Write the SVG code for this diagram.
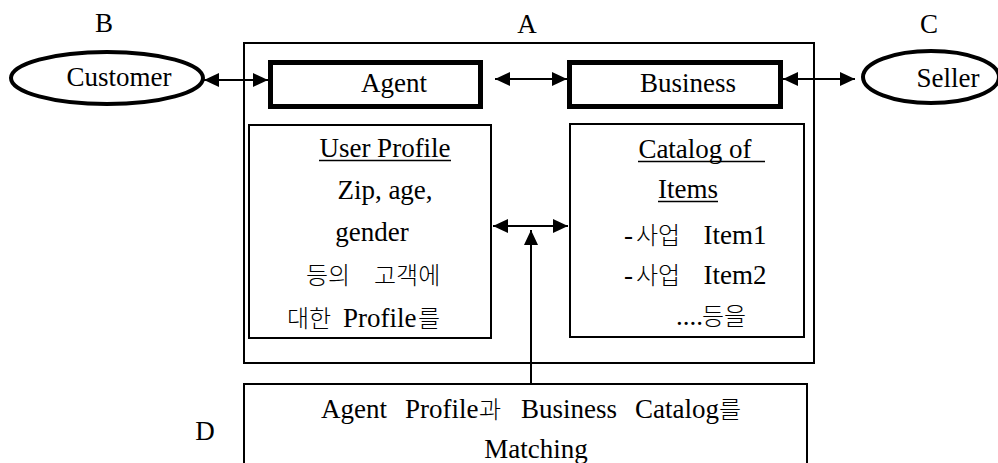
<svg xmlns="http://www.w3.org/2000/svg" width="998" height="463" viewBox="0 0 998 463">
<defs>
<marker id="ah" viewBox="0 0 15 14" refX="15" refY="7" markerWidth="15" markerHeight="14" markerUnits="userSpaceOnUse" orient="auto-start-reverse">
<path d="M0,0 L15,7 L0,14 z" fill="#000"/>
</marker>
<style>
text{font-size:27px;fill:#000}
.m{text-anchor:middle}
.k{font-weight:300;font-size:24px}
.thin{fill:none;stroke:#000;stroke-width:2}
.thick{fill:#fff;stroke:#000;stroke-width:5}
.ell{fill:#fff;stroke:#000;stroke-width:4}
.ul{stroke:#000;stroke-width:1.5}
.con{stroke:#000;stroke-width:2;fill:none;marker-start:url(#ah);marker-end:url(#ah)}
</style>
</defs>
<rect width="998" height="463" fill="#fff"/>
<g id="labels">
<text class="m" font-family="Liberation Serif" x="104" y="32">B</text>
<text class="m" font-family="Liberation Serif" x="527" y="33">A</text>
<text class="m" font-family="Liberation Serif" x="929" y="33">C</text>
<text class="m" font-family="Liberation Serif" x="205" y="440">D</text>
</g>
<g id="nodeA">
<rect class="thin" x="244" y="43" width="570" height="320"/>
</g>
<g id="customer">
<ellipse class="ell" cx="107" cy="78" rx="96" ry="26"/>
<text class="m" font-family="Liberation Serif" x="119" y="86">Customer</text>
</g>
<g id="seller">
<ellipse class="ell" cx="931" cy="77" rx="68" ry="26"/>
<text class="m" font-family="Liberation Serif" x="948" y="87">Seller</text>
</g>
<g id="agent">
<rect class="thick" x="270.5" y="62.5" width="210" height="44"/>
<text class="m" font-family="Liberation Serif" x="394" y="92">Agent</text>
</g>
<g id="business">
<rect class="thick" x="569.5" y="62.5" width="211" height="44"/>
<text class="m" font-family="Liberation Serif" x="688" y="92">Business</text>
</g>
<g id="userProfile">
<rect class="thin" x="249" y="125" width="242" height="213"/>
<text class="m" font-family="Liberation Serif" x="385" y="157">User Profile</text>
<line class="ul" x1="319" y1="160.5" x2="451" y2="160.5"/>
<text class="m" font-family="Liberation Serif" x="385" y="199">Zip, age,</text>
<text class="m" font-family="Liberation Serif" x="372" y="241">gender</text>
<text class="k" font-family="Noto Sans CJK KR" x="306" y="284">등의</text>
<text class="k" font-family="Noto Sans CJK KR" x="374" y="284">고객에</text>
<text class="k" font-family="Noto Sans CJK KR" x="287" y="327">대한</text>
<text font-family="Liberation Serif" x="343" y="327">Profile</text>
<text class="k" font-family="Noto Sans CJK KR" x="418" y="327">를</text>
</g>
<g id="catalog">
<rect class="thin" x="570" y="124" width="234" height="213"/>
<text class="m" font-family="Liberation Serif" x="695" y="158">Catalog of</text>
<line class="ul" x1="638" y1="161.5" x2="765" y2="161.5"/>
<text class="m" font-family="Liberation Serif" x="688" y="198">Items</text>
<line class="ul" x1="658" y1="201.5" x2="718" y2="201.5"/>
<text font-family="Liberation Serif" x="624" y="244">-</text>
<text class="k" font-family="Noto Sans CJK KR" x="636" y="244">사업</text>
<text class="m" font-family="Liberation Serif" x="735" y="244">Item1</text>
<text font-family="Liberation Serif" x="624" y="284">-</text>
<text class="k" font-family="Noto Sans CJK KR" x="636" y="284">사업</text>
<text class="m" font-family="Liberation Serif" x="735" y="284">Item2</text>
<text font-family="Liberation Serif" x="676" y="325">....</text>
<text class="k" font-family="Noto Sans CJK KR" x="702" y="325">등을</text>
</g>
<g id="matching">
<rect class="thin" x="244" y="384" width="563" height="100"/>
<text class="m" font-family="Liberation Serif" x="354" y="418">Agent</text>
<text font-family="Liberation Serif" x="405" y="418">Profile</text>
<text class="k" font-family="Noto Sans CJK KR" x="479" y="418">과</text>
<text class="m" font-family="Liberation Serif" x="569" y="418">Business</text>
<text font-family="Liberation Serif" x="635" y="418">Catalog</text>
<text class="k" font-family="Noto Sans CJK KR" x="719" y="418">를</text>
<text class="m" font-family="Liberation Serif" x="536" y="458">Matching</text>
</g>
<g id="connectors">
<line class="con" x1="204" y1="80" x2="268" y2="80"/>
<line class="con" x1="495" y1="79" x2="567" y2="79"/>
<line class="con" x1="783" y1="79" x2="855" y2="79"/>
<line class="con" x1="493" y1="226" x2="568" y2="226"/>
<line x1="531" y1="384" x2="531" y2="230" stroke="#000" stroke-width="2" marker-end="url(#ah)"/>
</g>
</svg>
